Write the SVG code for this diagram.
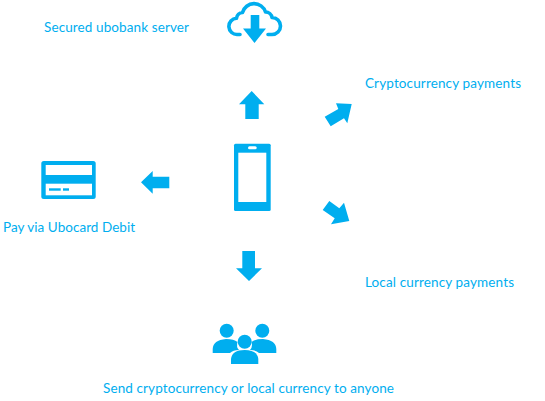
<svg xmlns="http://www.w3.org/2000/svg" width="545" height="401" viewBox="0 0 545 401">
<style>
.f{fill:#00aeef}
.w{fill:#fff}
text{font-family:"Lato","Open Sans",sans-serif;font-size:13.500px;fill:#00aeef}
</style>
<rect width="545" height="401" fill="#fff"/>
<g id="server">
<path d="M240 34.500H237.500A7.800 7.800 0 0 1 236.500 18.300A6.500 6.500 0 0 1 242.500 12.500A12 12 0 0 1 265.500 12A6.500 6.500 0 0 1 272 17.500A8.500 8.500 0 0 1 272 34.500H268" fill="none" stroke="#00aeef" stroke-width="3.600" stroke-linecap="round" stroke-linejoin="round"/>
<polygon class="f" points="250.700,15 259.300,15 259.300,28.500 266,28.500 254.500,43 243,28.500 250.700,28.500"/>
<text x="44" y="32" textLength="145">Secured ubobank server</text>
</g>
<g id="phone">
<rect class="f" x="234" y="143.700" width="36.700" height="67.300" rx="1.500"/>
<rect class="w" x="238.300" y="152.700" width="28" height="49.300"/>
<rect class="w" x="248" y="146.300" width="8.700" height="3" rx="1.500"/>
</g>
<g id="card">
<rect class="f" x="41.300" y="161" width="54.400" height="38" rx="2.500"/>
<rect class="w" x="45.700" y="165" width="46.300" height="10"/>
<rect class="w" x="45.700" y="183.700" width="46.300" height="11.600"/>
<rect class="f" x="49" y="188.300" width="11.700" height="2.400"/>
<rect class="f" x="63" y="188.300" width="6" height="2.400"/>
<text x="3" y="232" textLength="132">Pay via Ubocard Debit</text>
</g>
<g id="people">
<circle class="f" cx="226.700" cy="330.700" r="7"/>
<circle class="f" cx="262.300" cy="330.700" r="7"/>
<path class="f" d="M212.700 353V349Q213 340 226 339Q234 339 237.500 342Q236 347 239 350Q233 350 230 353Z"/>
<path class="f" d="M276.300 353V349Q276 340 263 339Q255 339 251.500 342Q253 347 250 350Q256 350 259 353Z"/>
<circle class="f" cx="244.700" cy="341.700" r="7"/>
<path class="f" d="M231 364V359Q232 350 244.700 350Q257.500 350 258.300 359V364Z"/>
<text x="103" y="392.500" textLength="291">Send cryptocurrency or local currency to anyone</text>
</g>
<g id="crypto"><text x="365" y="88" textLength="156">Cryptocurrency payments</text></g>
<g id="local"><text x="365" y="286.500" textLength="149">Local currency payments</text></g>
<g id="connectors">
<polygon class="f" points="251.700,91 264.300,104.300 258.700,104.300 258.700,119 245.300,119 245.300,104.300 239,104.300"/>
<polygon class="f" points="351.700,104 336,103.300 338.300,109 324.700,116.700 330.700,126.300 344,118.300 347.300,123.300"/>
<polygon class="f" points="322.700,210 329.300,201 339.300,208.300 344,202.700 349.300,221 331,224.300 334.700,218.300"/>
<polygon class="f" points="141,182.300 152.700,171 152.700,176.700 169.300,176.700 169.300,188.300 152.700,188.300 152.700,193.700"/>
<polygon class="f" points="242.300,251 255,251 255,268.300 262,268.300 249,281 236,268.300 242.300,268.300"/>
</g>
</svg>
